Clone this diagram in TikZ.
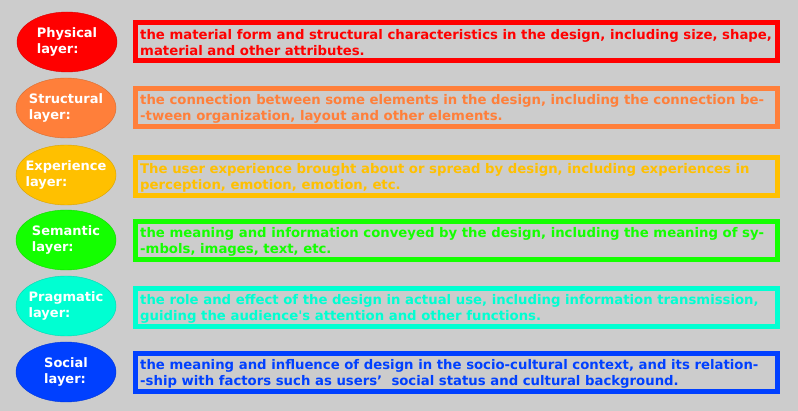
\documentclass[tikz,border=0pt]{standalone}
\usepackage{fontspec}
\setmainfont{DejaVu Sans}
\usetikzlibrary{shapes.geometric}
\definecolor{bg}{HTML}{CCCCCC}
\definecolor{cphys}{HTML}{FF0000}
\definecolor{cstru}{HTML}{FF7F3A}
\definecolor{cexpe}{HTML}{FFC000}
\definecolor{csema}{HTML}{14FF00}
\definecolor{cprag}{HTML}{00FFD2}
\definecolor{csoci}{HTML}{0040FF}
\tikzset{
  layer/.style={ellipse, fill=#1, draw=#1!85!black, line width=0.4pt,
    minimum width=100pt, minimum height=60pt, inner sep=0pt},
  layertext/.style={inner sep=0pt, text=white, align=left,
    font=\bfseries\fontsize{13}{16}\selectfont},
  descbox/.style={rectangle, draw=#1, line width=5pt,
    minimum width=642pt, minimum height=38pt, inner sep=0pt},
  desc/.style={anchor=west, inner sep=0pt, text=#1, align=left,
    font=\bfseries\fontsize{13.25}{16}\selectfont},
}
\begin{document}
\begin{tikzpicture}[x=1pt,y=-1pt]
\fill[bg] (0,0) rectangle (798,411);
\useasboundingbox (0,0) rectangle (798,411);
% Physical
\node[layer=cphys] (e1) at (67,42) {};
\node[layertext] (l1) at (e1.center) {Physical\\layer:};
\node[descbox=cphys] (r1) at (456.5,41.5) {};
\node[desc=cphys] (t1) at ([xshift=7pt,yshift=-1pt]r1.west) {the material form and structural characteristics in the design, including size, shape,\\material and other attributes.};
% Structural
\node[layer=cstru] (e2) at (66,108) {};
\node[layertext] (l2) at (e2.center) {Structural\\layer:};
\node[descbox=cstru] (r2) at (456.5,107.5) {};
\node[desc=cstru] (t2) at ([xshift=7pt,yshift=-1pt]r2.west) {the connection between some elements in the design, including the connection be-\\-tween organization, layout and other elements.};
% Experience
\node[layer=cexpe] (e3) at (66,175) {};
\node[layertext] (l3) at (e3.center) {Experience\\layer:};
\node[descbox=cexpe] (r3) at (456.5,176.5) {};
\node[desc=cexpe] (t3) at ([xshift=7pt,yshift=-1pt]r3.west) {The user experience brought about or spread by design, including experiences in\\perception, emotion, emotion, etc.};
% Semantic
\node[layer=csema] (e4) at (66,240) {};
\node[layertext] (l4) at (e4.center) {Semantic\\layer:};
\node[descbox=csema] (r4) at (456.5,241) {};
\node[desc=csema] (t4) at ([xshift=7pt,yshift=-1pt]r4.west) {the meaning and information conveyed by the design, including the meaning of sy-\\-mbols, images, text, etc.};
% Pragmatic
\node[layer=cprag] (e5) at (66,306) {};
\node[layertext] (l5) at (e5.center) {Pragmatic\\layer:};
\node[descbox=cprag] (r5) at (456.5,308) {};
\node[desc=cprag] (t5) at ([xshift=7pt,yshift=-1pt]r5.west) {the role and effect of the design in actual use, including information transmission,\\guiding the audience\textquotesingle s attention and other functions.};
% Social
\node[layer=csoci] (e6) at (66,372) {};
\node[layertext] (l6) at (e6.center) {Social\\layer:};
\node[descbox=csoci] (r6) at (456.5,373) {};
\node[desc=csoci] (t6) at ([xshift=7pt,yshift=-1pt]r6.west) {the meaning and influence of design in the socio-cultural context, and its relation-\\-ship with factors such as users’\ \ social status and cultural background.};
\end{tikzpicture}
\end{document}
